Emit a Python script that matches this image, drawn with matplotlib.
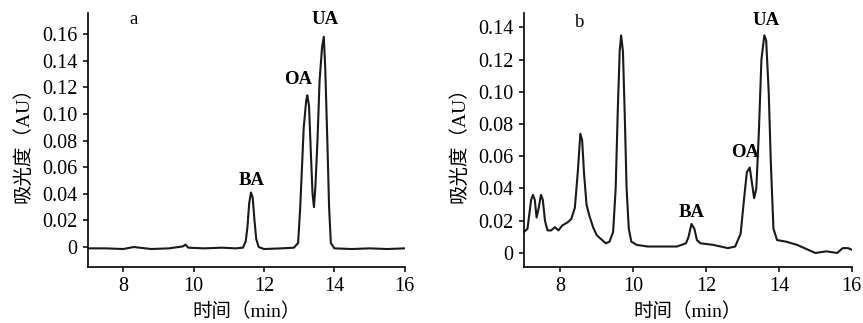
import numpy as np
import matplotlib
matplotlib.use("Agg")
import matplotlib.pyplot as plt

plt.rcParams['font.family'] = ['Liberation Serif', 'Noto Sans CJK SC']

# chromatogram a: retention time (min) and absorbance (AU)
time_a = [7.0, 7.5, 8.0, 8.3, 8.8, 9.3, 9.7, 9.77, 9.85, 10.3, 10.8, 11.2, 11.4,
          11.48, 11.53, 11.58, 11.63, 11.68, 11.73, 11.78, 11.85, 12.0, 12.5,
          12.85, 12.97, 13.03, 13.08, 13.13, 13.2, 13.23, 13.28, 13.33, 13.38,
          13.42, 13.46, 13.52, 13.58, 13.65, 13.70, 13.74, 13.8, 13.85, 13.9,
          14.0, 14.5, 15.0, 15.5, 16.0]
abs_a = [-0.001, -0.001, -0.0015, 0.0, -0.0015, -0.001, 0.0005, 0.0018, -0.0005,
         -0.001, -0.0005, -0.001, -0.0005,
         0.004, 0.015, 0.033, 0.041, 0.037, 0.020, 0.006, 0.0, -0.0015, -0.001,
         -0.0005, 0.003, 0.030, 0.060, 0.090, 0.110, 0.114, 0.106, 0.072, 0.040,
         0.030, 0.045, 0.080, 0.125, 0.150, 0.158, 0.135, 0.080, 0.030, 0.003,
         -0.001, -0.0015, -0.001, -0.0015, -0.001]

# chromatogram b
time_b = [7.0, 7.1, 7.2, 7.25, 7.3, 7.35, 7.4, 7.47, 7.52, 7.58, 7.65, 7.75, 7.85,
          7.95, 8.05, 8.2, 8.3, 8.4, 8.48, 8.55, 8.6, 8.65, 8.72, 8.8, 8.9, 9.0,
          9.1, 9.25, 9.35, 9.45, 9.52, 9.58, 9.63, 9.67, 9.72, 9.77, 9.82, 9.88,
          9.95, 10.1, 10.4, 10.8, 11.2, 11.45, 11.52, 11.6, 11.68, 11.75, 11.85,
          12.2, 12.6, 12.8, 12.95, 13.05, 13.12, 13.2, 13.25, 13.32, 13.38, 13.45,
          13.52, 13.6, 13.65, 13.72, 13.78, 13.85, 13.95, 14.2, 14.5, 14.8, 15.0,
          15.3, 15.6, 15.75, 15.9, 16.0]
abs_b = [0.013, 0.015, 0.033, 0.036, 0.033, 0.022, 0.027, 0.036, 0.033, 0.020,
         0.014, 0.014, 0.016, 0.014, 0.017, 0.019, 0.021, 0.028, 0.050, 0.074,
         0.070, 0.050, 0.030, 0.023, 0.016, 0.011, 0.009, 0.006, 0.007, 0.013,
         0.040, 0.090, 0.125, 0.135, 0.125, 0.085, 0.040, 0.015, 0.007, 0.005,
         0.004, 0.004, 0.004, 0.006, 0.010, 0.018, 0.015, 0.008, 0.006, 0.005,
         0.003, 0.004, 0.012, 0.035, 0.050, 0.053, 0.045, 0.034, 0.040, 0.075,
         0.120, 0.135, 0.132, 0.100, 0.055, 0.015, 0.008, 0.007, 0.005, 0.002,
         0.000, 0.001, 0.000, 0.003, 0.003, 0.002]

x_ticks = [8, 10, 12, 14, 16]
y_ticks_a = [0, 0.02, 0.04, 0.06, 0.08, 0.10, 0.12, 0.14, 0.16]
y_ticks_b = [0, 0.02, 0.04, 0.06, 0.08, 0.10, 0.12, 0.14]

# panel letter and peak labels: (text, x, y, weight)
labels_a = [("a", 8.28, 0.171, 'normal'), ("BA", 11.66, 0.050, 'bold'),
            ("OA", 12.97, 0.1256, 'bold'), ("UA", 13.73, 0.171, 'bold')]
labels_b = [("b", 8.54, 0.143, 'normal'), ("BA", 11.62, 0.0254, 'bold'),
            ("OA", 13.07, 0.0625, 'bold'), ("UA", 13.65, 0.144, 'bold')]

fig = plt.figure(figsize=(8.63, 3.23), dpi=100)
ax_a = fig.add_axes([0.102, 0.1734, 0.367, 0.787])
ax_b = fig.add_axes([0.607, 0.1734, 0.380, 0.787])


def style_axis(ax, t, a, yticks, ylim, labels):
    ax.plot(t, a, color='#1a1a1a', lw=1.5)
    ax.set_xlim(7, 16)
    ax.set_ylim(*ylim)
    ax.set_xticks(x_ticks)
    ax.set_yticks(yticks)
    ax.set_yticklabels(['0' if v == 0 else f"{v:.2f}" for v in yticks])
    for side in ['top', 'right']:
        ax.spines[side].set_visible(False)
    for side in ['left', 'bottom']:
        ax.spines[side].set_linewidth(1.2)
    ax.tick_params(direction='out', length=3.5, width=1.1, labelsize=14.5, pad=4)
    ax.set_xlabel("时间（min）", fontsize=14, labelpad=4)
    ax.set_ylabel("吸光度（AU）", fontsize=14, labelpad=7)
    for txt, x, y, w in labels:
        ax.text(x, y, txt, ha='center', va='center', fontsize=13.5, fontweight=w,
                family='Liberation Serif')


style_axis(ax_a, time_a, abs_a, y_ticks_a, (-0.015, 0.176), labels_a)
style_axis(ax_b, time_b, abs_b, y_ticks_b, (-0.0087, 0.149), labels_b)

fig.savefig("out.png", dpi=100)
